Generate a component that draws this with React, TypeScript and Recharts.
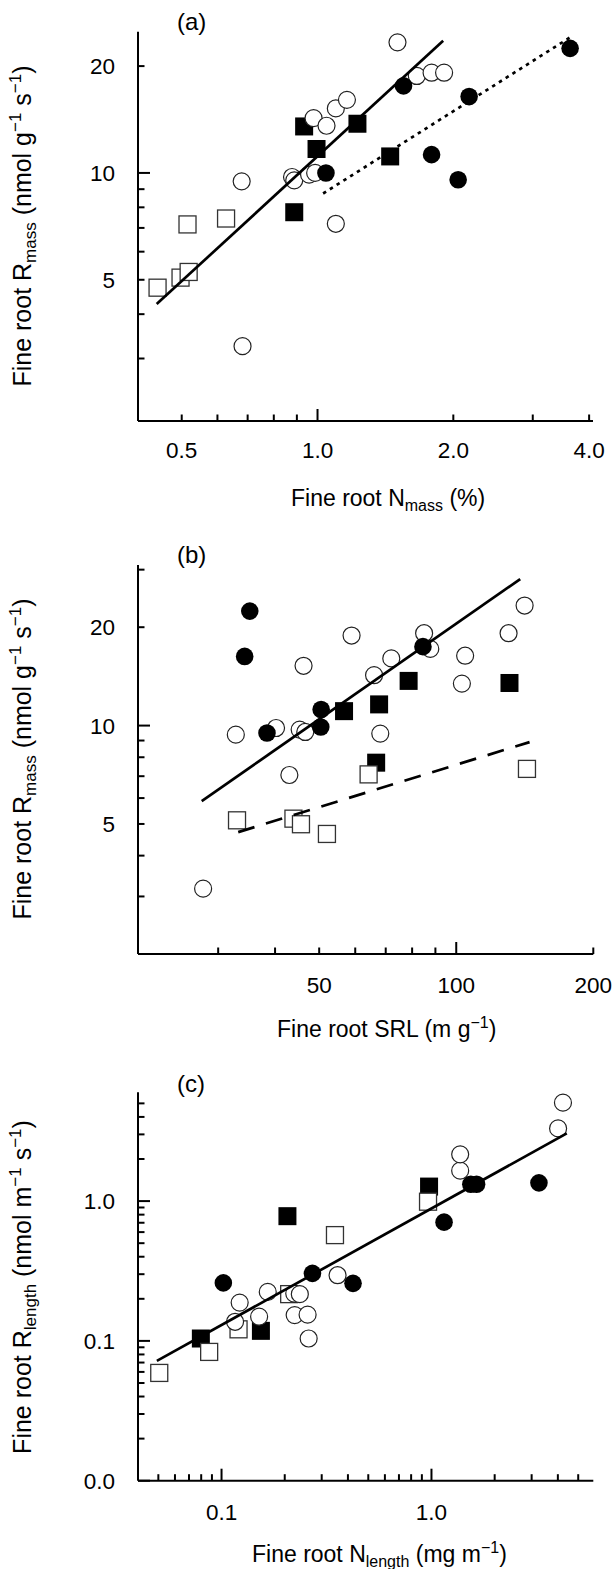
import React from 'react';
import { ScatterChart, Scatter, XAxis, YAxis } from 'recharts';

type P = { x: number; y: number };

const FONT = "'Liberation Sans', Arial, Helvetica, sans-serif";

// ---------------- Panel (a): Rmass vs Nmass ----------------
const aXTicks = [0.5, 0.6, 0.7, 0.8, 0.9, 1, 2, 3, 4];
const aXTickLabels = ['0.5', '', '', '', '', '1.0', '2.0', '', '4.0'];
const aYTicks = [3, 4, 5, 6, 7, 8, 9, 10, 20];
const aYTickLabels = ['', '', '5', '', '', '', '', '10', '20'];

const aOpenSquares: P[] = [
  { x: 0.442, y: 4.75 }, { x: 0.497, y: 5.07 }, { x: 0.518, y: 5.26 },
  { x: 0.515, y: 7.16 }, { x: 0.627, y: 7.44 },
];
const aFilledSquares: P[] = [
  { x: 0.934, y: 13.52 }, { x: 0.995, y: 11.68 }, { x: 1.226, y: 13.76 },
  { x: 0.888, y: 7.75 }, { x: 1.449, y: 11.13 },
];
const aOpenCircles: P[] = [
  { x: 0.679, y: 9.47 }, { x: 0.682, y: 3.25 }, { x: 0.878, y: 9.74 },
  { x: 0.888, y: 9.53 }, { x: 0.958, y: 9.89 }, { x: 0.988, y: 10.0 },
  { x: 0.98, y: 14.27 }, { x: 1.047, y: 13.58 }, { x: 1.098, y: 15.2 },
  { x: 1.162, y: 16.07 }, { x: 1.098, y: 7.19 }, { x: 1.504, y: 23.33 },
  { x: 1.66, y: 18.76 }, { x: 1.79, y: 19.16 }, { x: 1.908, y: 19.16 },
];
const aFilledCircles: P[] = [
  { x: 1.044, y: 10.0 }, { x: 1.551, y: 17.59 }, { x: 2.168, y: 16.41 },
  { x: 1.79, y: 11.26 }, { x: 2.05, y: 9.57 }, { x: 3.63, y: 22.44 },
];
const aSolidLine: P[] = [{ x: 0.44, y: 4.27 }, { x: 1.899, y: 23.57 }];
const aDottedLine: P[] = [{ x: 1.029, y: 8.75 }, { x: 3.65, y: 24.2 }];

// ---------------- Panel (b): Rmass vs SRL ----------------
const bXTicks = [30, 40, 50, 60, 70, 80, 90, 100, 200];
const bXTickLabels = ['', '', '50', '', '', '', '', '100', '200'];
const bYTicks = [3, 4, 5, 6, 7, 8, 9, 10, 20, 30];
const bYTickLabels = ['', '', '5', '', '', '', '', '10', '20', ''];

const bOpenSquares: P[] = [
  { x: 33.0, y: 5.13 }, { x: 43.9, y: 5.19 }, { x: 45.6, y: 4.99 },
  { x: 52.0, y: 4.66 }, { x: 64.2, y: 7.09 }, { x: 143.0, y: 7.37 },
];
const bFilledSquares: P[] = [
  { x: 56.7, y: 11.07 }, { x: 66.7, y: 7.7 }, { x: 67.7, y: 11.61 },
  { x: 78.6, y: 13.7 }, { x: 130.9, y: 13.5 },
];
const bOpenCircles: P[] = [
  { x: 32.8, y: 9.38 }, { x: 40.2, y: 9.83 }, { x: 45.3, y: 9.72 },
  { x: 46.6, y: 9.56 }, { x: 43.0, y: 7.06 }, { x: 27.8, y: 3.17 },
  { x: 46.2, y: 15.24 }, { x: 58.9, y: 18.86 }, { x: 66.0, y: 14.26 },
  { x: 72.0, y: 16.05 }, { x: 68.1, y: 9.45 }, { x: 85.0, y: 19.17 },
  { x: 87.7, y: 17.16 }, { x: 104.6, y: 16.36 }, { x: 102.9, y: 13.44 },
  { x: 130.3, y: 19.17 }, { x: 141.3, y: 23.3 },
];
const bFilledCircles: P[] = [
  { x: 35.2, y: 22.4 }, { x: 34.3, y: 16.28 }, { x: 38.4, y: 9.49 },
  { x: 50.5, y: 11.2 }, { x: 50.4, y: 9.9 }, { x: 84.5, y: 17.44 },
];
const bSolidLine: P[] = [{ x: 27.6, y: 5.87 }, { x: 138.2, y: 28.07 }];
const bDashedLine: P[] = [{ x: 33.2, y: 4.72 }, { x: 144.9, y: 8.9 }];

// ---------------- Panel (c): Rlength vs Nlength ----------------
const cXTicks = [0.05, 0.06, 0.07, 0.08, 0.09, 0.1, 0.2, 0.3, 0.4, 0.5, 0.6, 0.7, 0.8, 0.9, 1, 2, 3, 4, 5];
const cXTickLabels = ['', '', '', '', '', '0.1', '', '', '', '', '', '', '', '', '1.0', '', '', '', ''];
const cYTicks = [0.01, 0.02, 0.03, 0.04, 0.05, 0.06, 0.07, 0.08, 0.09, 0.1, 0.2, 0.3, 0.4, 0.5, 0.6, 0.7, 0.8, 0.9, 1, 2, 3, 4, 5];
const cYTickLabels = ['0.0', '', '', '', '', '', '', '', '', '0.1', '', '', '', '', '', '', '', '', '1.0', '', '', '', ''];

const cOpenSquares: P[] = [
  { x: 0.0505, y: 0.059 }, { x: 0.0873, y: 0.0834 }, { x: 0.1205, y: 0.121 },
  { x: 0.21, y: 0.216 }, { x: 0.347, y: 0.571 }, { x: 0.963, y: 0.99 },
];
const cFilledSquares: P[] = [
  { x: 0.0797, y: 0.104 }, { x: 0.154, y: 0.118 }, { x: 0.206, y: 0.78 }, { x: 0.974, y: 1.27 },
];
const cOpenCircles: P[] = [
  { x: 0.122, y: 0.188 }, { x: 0.116, y: 0.137 }, { x: 0.166, y: 0.224 },
  { x: 0.151, y: 0.149 }, { x: 0.222, y: 0.218 }, { x: 0.236, y: 0.216 },
  { x: 0.223, y: 0.153 }, { x: 0.257, y: 0.154 }, { x: 0.26, y: 0.104 },
  { x: 0.357, y: 0.295 }, { x: 1.37, y: 1.65 }, { x: 1.37, y: 2.16 },
  { x: 4.01, y: 3.31 }, { x: 4.23, y: 5.06 },
];
const cFilledCircles: P[] = [
  { x: 0.102, y: 0.26 }, { x: 0.271, y: 0.304 }, { x: 0.423, y: 0.258 },
  { x: 1.148, y: 0.707 }, { x: 1.54, y: 1.32 }, { x: 1.64, y: 1.32 }, { x: 3.25, y: 1.35 },
];
const cSolidLine: P[] = [{ x: 0.0492, y: 0.0719 }, { x: 4.41, y: 3.05 }];

// ---------------- rendering helpers ----------------
const TICK_FS = 22.5;
const isDecade = (v: number) => Math.abs(Math.log10(v) - Math.round(Math.log10(v))) < 1e-6;

function makeXTick(ticks: number[], labels: string[], labelOffset: number) {
  return (props: any) => {
    const { x, y, payload } = props;
    const v = payload.value;
    const i = ticks.indexOf(v);
    const lab = i >= 0 ? labels[i] : '';
    const len = isDecade(v) ? 12 : 6.5;
    return (
      <g>
        <line x1={x} x2={x} y1={y} y2={y - len} stroke="#000" strokeWidth={2} />
        {lab ? (
          <text x={x} y={y + labelOffset} textAnchor="middle" fontSize={TICK_FS} fontFamily={FONT} fill="#000">
            {lab}
          </text>
        ) : null}
      </g>
    );
  };
}

function makeYTick(ticks: number[], labels: string[]) {
  return (props: any) => {
    const { x, y, payload } = props;
    const v = payload.value;
    const i = ticks.indexOf(v);
    const lab = i >= 0 ? labels[i] : '';
    const len = isDecade(v) ? 12 : 6.5;
    return (
      <g>
        <line x1={x} x2={x + len} y1={y} y2={y} stroke="#000" strokeWidth={2} />
        {lab ? (
          <text x={x - 23} y={y + 8} textAnchor="end" fontSize={TICK_FS} fontFamily={FONT} fill="#000">
            {lab}
          </text>
        ) : null}
      </g>
    );
  };
}

const OpenCircle = (p: any) => (
  <circle cx={p.cx} cy={p.cy} r={8.5} fill="#fff" stroke="#222" strokeWidth={1.2} />
);
const FilledCircle = (p: any) => <circle cx={p.cx} cy={p.cy} r={8.8} fill="#000" />;
const OpenSquare = (p: any) => (
  <rect x={p.cx - 8.5} y={p.cy - 8.5} width={17} height={17} fill="#fff" stroke="#333" strokeWidth={1.3} />
);
const FilledSquare = (p: any) => <rect x={p.cx - 9} y={p.cy - 9} width={18} height={18} fill="#000" />;
const NoShape = () => <g />;

type LineDef = { data: P[]; dash?: string };

type PanelProps = {
  top: number;
  height: number;
  margin: { top: number; right: number; bottom: number; left: number };
  xh: number;
  xDomain: [number, number];
  yDomain: [number, number];
  xTicks: number[];
  xLabels: string[];
  yTicks: number[];
  yLabels: string[];
  xLabOff: number;
  filledSquares: P[];
  openSquares: P[];
  openCircles: P[];
  filledCircles: P[];
  lines: LineDef[];
};

function Panel(props: PanelProps) {
  const axisLine = { stroke: '#000', strokeWidth: 2 };
  return (
    <div style={{ position: 'absolute', left: 0, top: props.top, width: 616, height: props.height }}>
      <ScatterChart width={616} height={props.height} margin={props.margin}>
        <XAxis
          type="number"
          dataKey="x"
          scale="log"
          domain={props.xDomain}
          allowDataOverflow
          ticks={props.xTicks}
          interval={0}
          tick={makeXTick(props.xTicks, props.xLabels, props.xLabOff)}
          tickLine={false}
          tickSize={0}
          tickMargin={0}
          axisLine={axisLine}
          height={props.xh}
        />
        <YAxis
          type="number"
          dataKey="y"
          scale="log"
          domain={props.yDomain}
          allowDataOverflow
          ticks={props.yTicks}
          interval={0}
          tick={makeYTick(props.yTicks, props.yLabels)}
          tickLine={false}
          tickSize={0}
          tickMargin={0}
          axisLine={axisLine}
          width={138}
        />
        <Scatter data={props.filledSquares} shape={FilledSquare} isAnimationActive={false} />
        <Scatter data={props.openSquares} shape={OpenSquare} isAnimationActive={false} />
        <Scatter data={props.openCircles} shape={OpenCircle} isAnimationActive={false} />
        <Scatter data={props.filledCircles} shape={FilledCircle} isAnimationActive={false} />
        {props.lines.map((l, i) => (
          <Scatter
            key={i}
            data={l.data}
            shape={NoShape}
            line={{ stroke: '#000', strokeWidth: 2.7, strokeDasharray: l.dash, fill: 'none' }}
            isAnimationActive={false}
          />
        ))}
      </ScatterChart>
    </div>
  );
}

const SUP = 16;
const SUB = 16;

export default function App() {
  return (
    <div style={{ position: 'absolute', left: 0, top: 0, width: 616, height: 1569, background: '#fff' }}>
      <Panel
        top={0}
        height={530}
        margin={{ top: 31.7, right: 23, bottom: 0, left: 0 }}
        xh={109}
        xDomain={[0.4, 4.08]}
        yDomain={[2, 25]}
        xTicks={aXTicks}
        xLabels={aXTickLabels}
        yTicks={aYTicks}
        yLabels={aYTickLabels}
        xLabOff={37}
        filledSquares={aFilledSquares}
        openSquares={aOpenSquares}
        openCircles={aOpenCircles}
        filledCircles={aFilledCircles}
        lines={[{ data: aSolidLine }, { data: aDottedLine, dash: '3.5 4.5' }]}
      />
      <Panel
        top={530}
        height={530}
        margin={{ top: 35, right: 22.7, bottom: 0, left: 0 }}
        xh={106}
        xDomain={[20, 200]}
        yDomain={[2, 31]}
        xTicks={bXTicks}
        xLabels={bXTickLabels}
        yTicks={bYTicks}
        yLabels={bYTickLabels}
        xLabOff={39}
        filledSquares={bFilledSquares}
        openSquares={bOpenSquares}
        openCircles={bOpenCircles}
        filledCircles={bFilledCircles}
        lines={[{ data: bSolidLine }, { data: bDashedLine, dash: '17 12' }]}
      />
      <Panel
        top={1060}
        height={509}
        margin={{ top: 32.3, right: 22.7, bottom: 0, left: 0 }}
        xh={88.3}
        xDomain={[0.04, 5.9]}
        yDomain={[0.01, 6]}
        xTicks={cXTicks}
        xLabels={cXTickLabels}
        yTicks={cYTicks}
        yLabels={cYTickLabels}
        xLabOff={39}
        filledSquares={cFilledSquares}
        openSquares={cOpenSquares}
        openCircles={cOpenCircles}
        filledCircles={cFilledCircles}
        lines={[{ data: cSolidLine }]}
      />
      <svg
        width={616}
        height={1569}
        style={{ position: 'absolute', left: 0, top: 0, pointerEvents: 'none' }}
        fontFamily={FONT}
        fill="#000"
      >
        {/* panel labels */}
        <text x={177} y={30} fontSize={24}>(a)</text>
        <text x={177} y={563} fontSize={24}>(b)</text>
        <text x={177} y={1092} fontSize={24}>(c)</text>

        {/* x-axis titles */}
        <text x={291} y={506} fontSize={23}>
          Fine root N<tspan fontSize={SUB} dy={5}>mass</tspan>
          <tspan dy={-5}> (%)</tspan>
        </text>
        <text x={277} y={1037} fontSize={23}>
          Fine root SRL (m g<tspan fontSize={SUP} dy={-9}>−1</tspan>
          <tspan dy={9}>)</tspan>
        </text>
        <text x={252} y={1562} fontSize={23}>
          Fine root N<tspan fontSize={SUB} dy={5}>length</tspan>
          <tspan dy={-5}> (mg m</tspan>
          <tspan fontSize={SUP} dy={-9}>−1</tspan>
          <tspan dy={9}>)</tspan>
        </text>

        {/* y-axis titles */}
        <text transform="translate(31,226) rotate(-90)" textAnchor="middle" fontSize={25}>
          Fine root R<tspan fontSize={SUB + 1} dy={5}>mass</tspan>
          <tspan dy={-5}> (nmol g</tspan>
          <tspan fontSize={SUP + 1} dy={-10}>−1</tspan>
          <tspan dy={10}> s</tspan>
          <tspan fontSize={SUP + 1} dy={-10}>−1</tspan>
          <tspan dy={10}>)</tspan>
        </text>
        <text transform="translate(31,759) rotate(-90)" textAnchor="middle" fontSize={25}>
          Fine root R<tspan fontSize={SUB + 1} dy={5}>mass</tspan>
          <tspan dy={-5}> (nmol g</tspan>
          <tspan fontSize={SUP + 1} dy={-10}>−1</tspan>
          <tspan dy={10}> s</tspan>
          <tspan fontSize={SUP + 1} dy={-10}>−1</tspan>
          <tspan dy={10}>)</tspan>
        </text>
        <text transform="translate(31,1287) rotate(-90)" textAnchor="middle" fontSize={25}>
          Fine root R<tspan fontSize={SUB + 1} dy={5}>length</tspan>
          <tspan dy={-5}> (nmol m</tspan>
          <tspan fontSize={SUP + 1} dy={-10}>−1</tspan>
          <tspan dy={10}> s</tspan>
          <tspan fontSize={SUP + 1} dy={-10}>−1</tspan>
          <tspan dy={10}>)</tspan>
        </text>
      </svg>
    </div>
  );
}
